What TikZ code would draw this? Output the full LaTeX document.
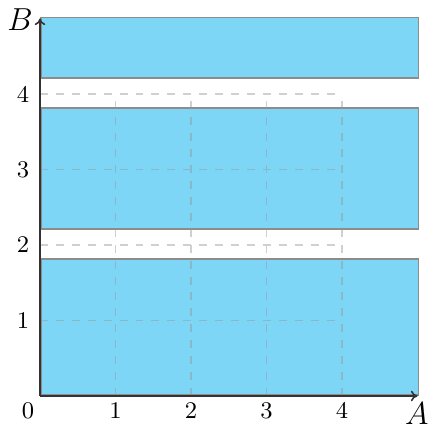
\documentclass[tikz,border=0pt]{standalone}
\usetikzlibrary{arrows.meta}
\definecolor{boxfill}{RGB}{126,214,247}
\definecolor{boxline}{RGB}{140,140,140}
\definecolor{gridc}{RGB}{150,150,150}
\begin{document}
\begin{tikzpicture}[x=1cm,y=1cm,
  bar/.style={fill=boxfill,draw=boxline,line width=0.6pt},
  gridl/.style={draw=gridc,draw opacity=0.45,dashed,line width=0.4pt},
  axis/.style={draw=black!80,line width=0.6pt,-{To[length=2.5pt,width=4pt]}},
  tick/.style={font=\small,inner sep=0pt}]
\useasboundingbox (-0.53,-0.397) rectangle (5.139,5.245);
\node[bar,minimum width=5cm,minimum height=1.8cm,anchor=south west,inner sep=0pt] (r1) at (0,0) {};
\node[bar,minimum width=5cm,minimum height=1.6cm,anchor=south west,inner sep=0pt] (r2) at (0,2.2) {};
\node[bar,minimum width=5cm,minimum height=0.8cm,anchor=south west,inner sep=0pt] (r3) at (0,4.2) {};
\draw[gridl] (0,0) grid (4,4);
\coordinate (o) at (0,0);
\coordinate (xe) at (5,0);
\coordinate (ye) at (0,5);
\draw[axis] (o) -- (xe);
\draw[axis] (o) -- (ye);
\node[inner sep=0pt] (la) at (4.99,-0.23) {\large$A$};
\node[inner sep=0pt] (lb) at (-0.265,4.99) {\large$B$};
\node[tick] (t0) at (-0.16,-0.19) {0};
\foreach \i in {1,2,3,4}{
  \node[tick] (tx\i) at (\i,-0.19) {\i};
  \node[tick] (ty\i) at (-0.225,\i) {\i};
}
\end{tikzpicture}
\end{document}
